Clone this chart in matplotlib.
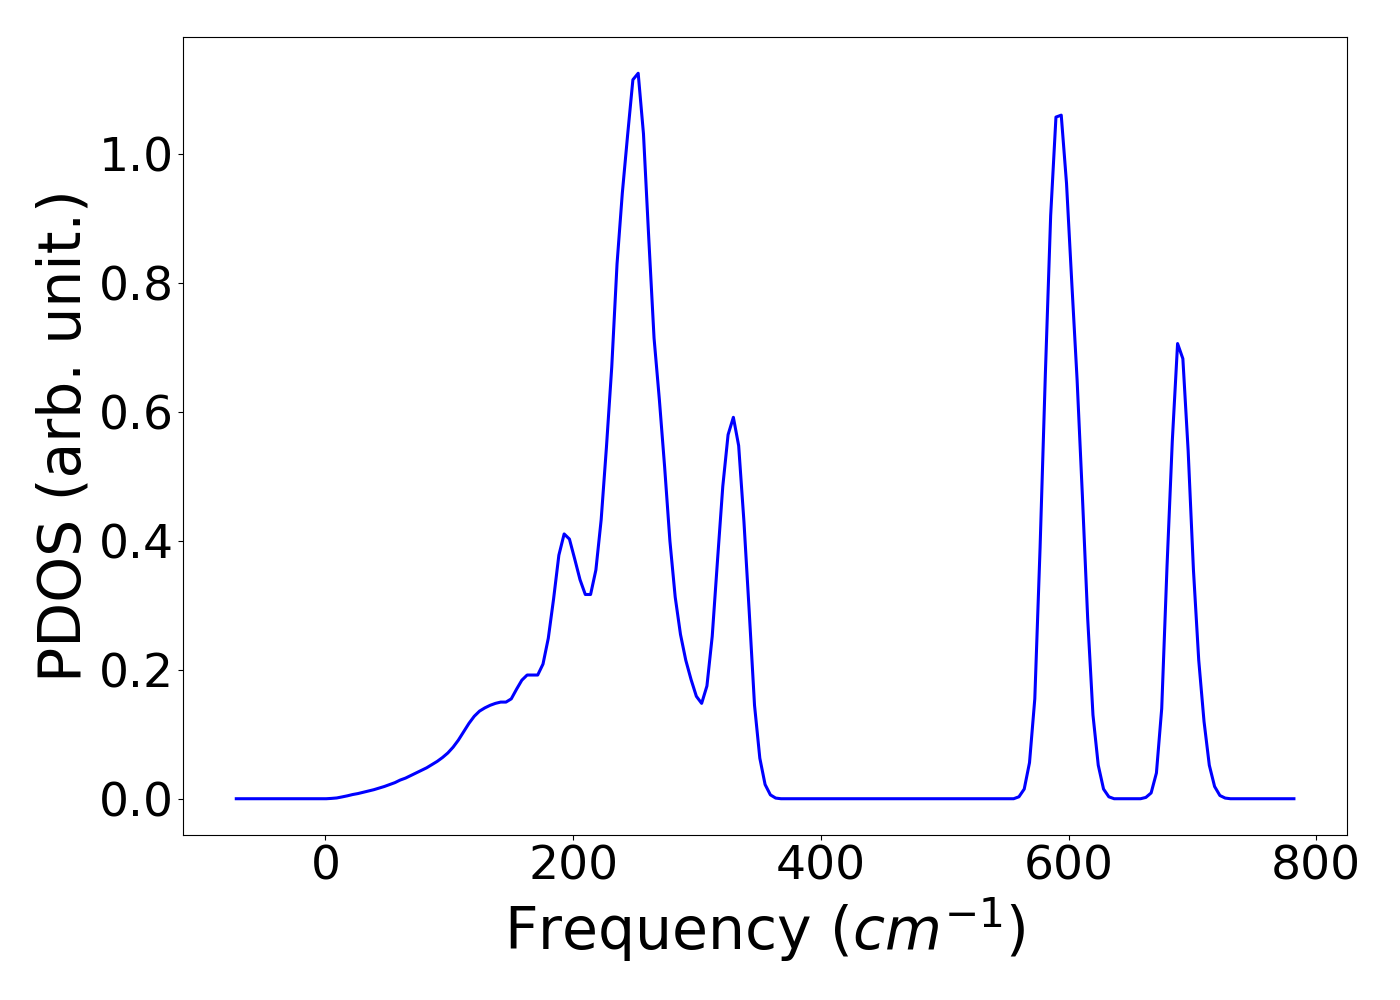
import matplotlib
matplotlib.use("Agg")
import matplotlib.pyplot as plt

# phonon PDOS (vertices of the polyline)
freq = [-72.0, 0.59, 4.86, 9.13, 13.4, 17.67, 21.94, 26.21, 30.48, 34.75,
        39.02, 43.29, 47.56, 51.83, 56.1, 60.37, 64.64, 68.91, 73.18, 77.45,
        81.72, 85.99, 90.26, 94.53, 98.8, 103.07, 107.34, 111.61, 115.88, 120.15,
        124.42, 128.69, 132.96, 137.23, 141.5, 145.77, 150.04, 154.31, 158.58, 162.85,
        167.12, 171.39, 175.66, 179.93, 184.2, 188.47, 192.74, 197.01, 201.28, 205.55,
        209.82, 214.09, 218.36, 222.63, 226.9, 231.17, 235.44, 239.71, 243.98, 248.25,
        252.52, 256.79, 261.06, 265.33, 269.6, 273.87, 278.14, 282.41, 286.68, 290.95,
        295.22, 299.49, 303.76, 308.03, 312.3, 316.57, 320.84, 325.11, 329.38, 333.65,
        337.92, 342.19, 346.46, 350.73, 355.0, 359.27, 363.54, 367.81,
        555.69, 559.96, 564.23, 568.5, 572.77, 577.04, 581.31, 585.58, 589.85, 594.12,
        598.39, 602.66, 606.93, 611.2, 615.47, 619.74, 624.01, 628.28, 632.55, 636.82,
        658.17, 662.44, 666.71, 670.98, 675.25, 679.52, 683.79, 688.06, 692.33, 696.6,
        700.87, 705.14, 709.41, 713.68, 717.95, 722.22, 726.49, 730.76, 782.0]

pdos = [0.0, 0.0, 0.0005, 0.0012, 0.0028, 0.0045, 0.0065, 0.008, 0.010, 0.012,
        0.014, 0.0165, 0.019, 0.022, 0.025, 0.029, 0.032, 0.036, 0.040, 0.044,
        0.048, 0.053, 0.058, 0.064, 0.071, 0.080, 0.091, 0.104, 0.117, 0.128,
        0.136, 0.141, 0.145, 0.148, 0.150, 0.150, 0.155, 0.170, 0.184, 0.192,
        0.192, 0.192, 0.209, 0.249, 0.31, 0.378, 0.411, 0.403, 0.372, 0.340,
        0.317, 0.317, 0.355, 0.433, 0.546, 0.67, 0.83, 0.94, 1.03, 1.116,
        1.126, 1.032, 0.87, 0.715, 0.62, 0.515, 0.40, 0.313, 0.255, 0.215,
        0.185, 0.159, 0.148, 0.175, 0.252, 0.37, 0.485, 0.565, 0.592, 0.548,
        0.43, 0.29, 0.145, 0.063, 0.022, 0.006, 0.001, 0.0,
        0.0, 0.003, 0.015, 0.056, 0.155, 0.39, 0.66, 0.905, 1.058, 1.061,
        0.955, 0.80, 0.65, 0.47, 0.28, 0.13, 0.052, 0.015, 0.003, 0.0,
        0.0, 0.002, 0.009, 0.04, 0.14, 0.36, 0.555, 0.7065, 0.683, 0.54,
        0.355, 0.215, 0.12, 0.052, 0.019, 0.005, 0.001, 0.0, 0.0]

fig = plt.figure(figsize=(14, 10), dpi=100)
ax = fig.add_axes([0.131, 0.165, 0.831, 0.798])
ax.plot(freq, pdos, color='blue', lw=2.2)

ax.set_xlabel(r'Frequency ($cm^{-1}$)', fontsize=42)
ax.set_ylabel('PDOS (arb. unit.)', fontsize=42)
ax.tick_params(labelsize=34)

fig.savefig('out.png', dpi=100)
